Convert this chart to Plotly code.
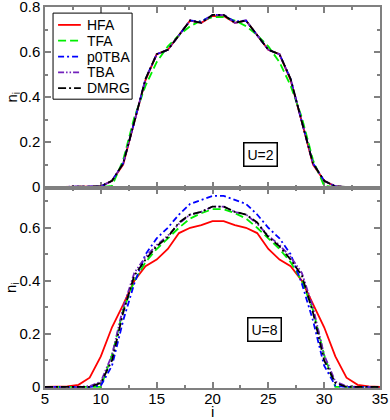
import plotly.graph_objects as go
from plotly.subplots import make_subplots

# lattice sites shown on the x axis
sites = list(range(5, 36))

# U=2 densities (top panel)
u2_hfa = [0, 0, 0, 0, 0, 0.003, 0.028, 0.10, 0.29, 0.475, 0.59, 0.61, 0.675, 0.74, 0.73, 0.76,
          0.76, 0.73, 0.74, 0.675, 0.61, 0.59, 0.475, 0.29, 0.10, 0.028, 0.003, 0, 0, 0, 0]
u2_tfa = [0, 0, 0, 0, 0, 0, 0.005, 0.12, 0.31, 0.45, 0.555, 0.625, 0.675, 0.715, 0.74, 0.755,
          0.755, 0.74, 0.715, 0.675, 0.625, 0.555, 0.45, 0.31, 0.12, 0.005, 0, 0, 0, 0, 0]
u2_p0tba = [0, 0, 0, 0, 0, 0.003, 0.028, 0.105, 0.29, 0.48, 0.59, 0.61, 0.675, 0.74, 0.735, 0.765,
            0.765, 0.735, 0.74, 0.675, 0.61, 0.59, 0.48, 0.29, 0.105, 0.028, 0.003, 0, 0, 0, 0]
u2_tba = [0, 0, 0, 0, 0, 0.003, 0.028, 0.105, 0.29, 0.48, 0.59, 0.61, 0.675, 0.74, 0.73, 0.765,
          0.765, 0.73, 0.74, 0.675, 0.61, 0.59, 0.48, 0.29, 0.105, 0.028, 0.003, 0, 0, 0, 0]
u2_dmrg = [0, 0, 0, 0, 0, 0.003, 0.028, 0.105, 0.29, 0.48, 0.59, 0.61, 0.675, 0.74, 0.73, 0.765,
           0.765, 0.73, 0.74, 0.675, 0.61, 0.59, 0.48, 0.29, 0.105, 0.028, 0.003, 0, 0, 0, 0]

# U=8 densities (bottom panel)
u8_hfa = [0, 0, 0.002, 0.008, 0.035, 0.115, 0.225, 0.31, 0.40, 0.455, 0.48, 0.52, 0.58, 0.60, 0.61, 0.625,
          0.625, 0.61, 0.60, 0.58, 0.52, 0.48, 0.455, 0.40, 0.31, 0.225, 0.115, 0.035, 0.008, 0.002, 0]
u8_tfa = [0, 0, 0, 0, 0, 0, 0.12, 0.29, 0.40, 0.47, 0.52, 0.56, 0.60, 0.635, 0.655, 0.67,
          0.67, 0.655, 0.635, 0.60, 0.56, 0.52, 0.47, 0.40, 0.29, 0.12, 0, 0, 0, 0, 0]
u8_p0tba = [0, 0, 0, 0, 0, 0.005, 0.08, 0.25, 0.39, 0.50, 0.56, 0.60, 0.65, 0.69, 0.705, 0.72,
            0.72, 0.705, 0.69, 0.65, 0.60, 0.56, 0.50, 0.39, 0.25, 0.08, 0.005, 0, 0, 0, 0]
u8_tba = [0, 0, 0, 0, 0.003, 0.02, 0.12, 0.30, 0.43, 0.49, 0.535, 0.57, 0.615, 0.65, 0.66, 0.68,
          0.68, 0.66, 0.65, 0.615, 0.57, 0.535, 0.49, 0.43, 0.30, 0.12, 0.02, 0.003, 0, 0, 0]
u8_dmrg = [0, 0, 0, 0, 0, 0.015, 0.10, 0.28, 0.42, 0.48, 0.53, 0.565, 0.62, 0.65, 0.66, 0.68,
           0.68, 0.66, 0.65, 0.62, 0.565, 0.53, 0.48, 0.42, 0.28, 0.10, 0.015, 0, 0, 0, 0]

names = ["HFA", "TFA", "p0TBA", "TBA", "DMRG"]
colors = ["#ff0000", "#00ee00", "#0000ff", "#7221bc", "#000000"]
dashes = ["solid", "8px,4px", "6px,3px,2px,3px", "6px,2px,1.5px,2px,1.5px,2px", "8px,3px,2px,3px"]

fig = make_subplots(rows=2, cols=1, shared_xaxes=True, vertical_spacing=0,
                    row_heights=[0.475, 0.525])

for k, ys in enumerate([u2_hfa, u2_tfa, u2_p0tba, u2_tba, u2_dmrg]):
    fig.add_trace(go.Scatter(x=sites, y=ys, mode="lines", name=names[k], showlegend=False,
                             line=dict(color=colors[k], width=1.8, dash=dashes[k])),
                  row=1, col=1)

for k, ys in enumerate([u8_hfa, u8_tfa, u8_p0tba, u8_tba, u8_dmrg]):
    fig.add_trace(go.Scatter(x=sites, y=ys, mode="lines", name=names[k], showlegend=False,
                             line=dict(color=colors[k], width=1.8, dash=dashes[k])),
                  row=2, col=1)

axis_style = dict(showline=True, linecolor="#808080", linewidth=1.5, mirror="allticks",
                  ticks="inside", tickcolor="#808080", ticklen=6, tickwidth=1.5,
                  showgrid=False, zeroline=False, layer="below traces", automargin=False,
                  ticklabeloverflow="allow", tickfont=dict(size=15, color="black"))

fig.update_xaxes(axis_style, range=[5, 35], dtick=5, ticklabelstandoff=-4,
                 minor=dict(ticks="inside", dtick=2.5, ticklen=3.5, tickcolor="#808080", tickwidth=1.5))
fig.update_xaxes(showticklabels=False, row=1, col=1)

fig.update_yaxes(axis_style, dtick=0.2,
                 minor=dict(ticks="inside", dtick=0.1, ticklen=3.5, tickcolor="#808080", tickwidth=1.5))
fig.update_yaxes(range=[-0.004, 0.8001], row=1, col=1)
fig.update_yaxes(range=[-0.004, 0.75], row=2, col=1)

# axis titles
title_font = dict(size=15, color="black")
centered = dict(xanchor="center", yanchor="middle", showarrow=False)
fig.add_annotation(x=-0.0985, y=0.7625, xref="paper", yref="paper", text="n<sub>i</sub>",
                   textangle=-90, font=title_font, **centered)
fig.add_annotation(x=-0.0985, y=0.2625, xref="paper", yref="paper", text="n<sub>i</sub>",
                   textangle=-90, font=title_font, **centered)
fig.add_annotation(x=0.5, y=-0.062, xref="paper", yref="paper", text="i",
                   font=title_font, **centered)

fig.add_annotation(x=24.3, y=0.146, xref="x", yref="y", text="U=2",
                   font=dict(size=14, color="black"), bordercolor="black", borderwidth=1.5,
                   borderpad=3, bgcolor="white", **centered)
fig.add_annotation(x=24.7, y=0.215, xref="x2", yref="y2", text="U=8",
                   font=dict(size=14, color="black"), bordercolor="black", borderwidth=1.5,
                   borderpad=3, bgcolor="white", **centered)

# legend box in the top panel (xmgrace style, tighter than plotly's own legend)
fig.add_shape(type="rect", xref="paper", yref="paper", x0=0.024, x1=0.260, y0=0.758, y1=0.984,
              line=dict(color="black", width=1), fillcolor="white")
for k in range(len(names)):
    ly = 0.953 - k * 0.0415
    fig.add_shape(type="line", xref="paper", yref="paper", x0=0.039, x1=0.107, y0=ly, y1=ly,
                  line=dict(color=colors[k], width=1.8, dash=dashes[k]))
    fig.add_annotation(x=0.119, y=ly, xref="paper", yref="paper", text=names[k],
                       xanchor="left", yanchor="middle", showarrow=False,
                       font=dict(size=14, color="black"))

fig.update_layout(
    width=390, height=420,
    margin=dict(l=45, r=10, t=7, b=32),
    paper_bgcolor="white", plot_bgcolor="white",
    font=dict(family="Liberation Sans, Arial, sans-serif", color="black"),
    showlegend=False,
)

# body margin 0 so the 390x420 figure sits flush in the window
fig.write_html("out.html", config={"displayModeBar": False},
               post_script="document.body.style.margin='0';")
